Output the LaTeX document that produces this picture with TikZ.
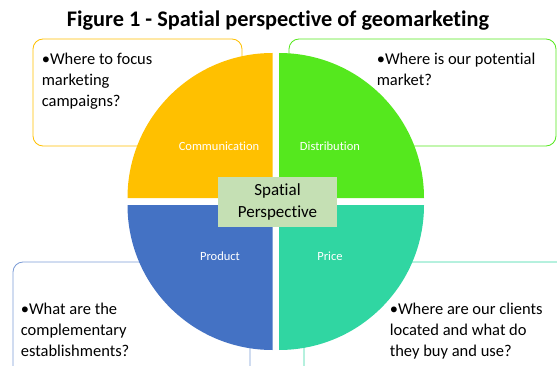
\documentclass[tikz,border=0pt]{standalone}
\usepackage{fontspec}
\setmainfont{Carlito}[Ligatures=NoCommon]
\usetikzlibrary{positioning}

\definecolor{commorange}{HTML}{FFC000}
\definecolor{distgreen}{HTML}{55E81E}
\definecolor{prodblue}{HTML}{4472C4}
\definecolor{priceteal}{HTML}{30D6A2}
\definecolor{spatialfill}{HTML}{C5E0B4}

\begin{document}
\begin{tikzpicture}[x=1pt, y=1pt,
    question/.style={draw, line width=0.8pt, rounded corners=10pt, fill=white},
    asks/.style={anchor=north west, inner sep=0pt, align=left,
        font=\fontsize{16.5}{21}\selectfont},
    part/.style={text=white, font=\fontsize{12.5}{14}\selectfont}]

    \useasboundingbox (0,0) rectangle (557,365);

    \node (title) at (278,344) {\fontsize{22.3}{26}\selectfont\bfseries Figure 1 - Spatial perspective of geomarketing};

    % question boxes, behind the circle
    \node [question, draw=commorange, minimum width=209pt, minimum height=107pt] (boxComm) at (137.5,272.5) {};
    \node [question, draw=distgreen, minimum width=267pt, minimum height=107pt] (boxDist) at (422.5,272.5) {};
    \node [question, draw=prodblue!70, minimum width=237pt, minimum height=118pt] (boxProd) at (131.5,44) {};
    \node [question, draw=priceteal, minimum width=271pt, minimum height=118pt] (boxPrice) at (439.5,44) {};

    % the four quarters
    \fill [commorange] (272.5,167) -- ++(-145,0) arc (180:90:145) -- cycle;
    \fill [distgreen] (279,167) -- ++(0,145) arc (90:0:145) -- cycle;
    \fill [prodblue] (272.5,160) -- ++(-145,0) arc (180:270:145) -- cycle;
    \fill [priceteal] (279,160) -- ++(145,0) arc (0:-90:145) -- cycle;

    \node [part] (comm) at (219,219) {Communication};
    \node [part] (dist) at (330,219) {Distribution};
    \node [part] (prod) at (220,109) {Product};
    \node [part] (price) at (330,109) {Price};

    \node [fill=spatialfill, minimum width=119pt, minimum height=50pt, align=center,
        font=\fontsize{17}{22}\selectfont] (spatial) at (277.5,163) {Spatial\\Perspective};

    \node [asks] (askComm) at ([shift={(9,-14)}]boxComm.north west) {•Where to focus\\marketing\\campaigns?};
    \node [asks] (askDist) at ([shift={(88,-14)}]boxDist.north west) {•Where is our potential\\market?};
    \node [asks] (askProd) at ([shift={(8,-41)}]boxProd.north west) {•What are the\\complementary\\establishments?};
    \node [asks] (askPrice) at ([shift={(86,-41)}]boxPrice.north west) {•Where are our clients\\located and what do\\they buy and use?};

\end{tikzpicture}
\end{document}
